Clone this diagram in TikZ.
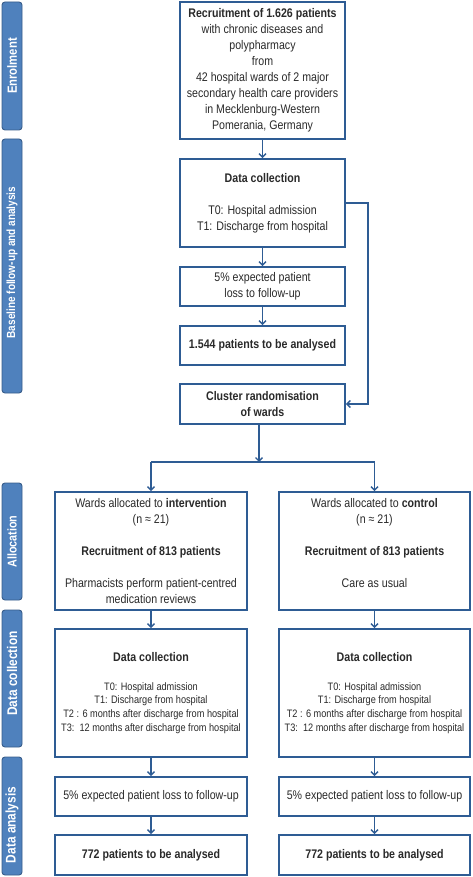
\documentclass[tikz,border=0pt]{standalone}
\usepackage{fontspec}
\setmainfont[FakeStretch=0.85]{Liberation Sans}
\usetikzlibrary{arrows.meta}
\definecolor{barblue}{HTML}{4F81BD}
\definecolor{bardark}{HTML}{385D8A}
\definecolor{boxline}{HTML}{2E5C94}
\definecolor{txt}{HTML}{2A2A2A}
\begin{document}
\begin{tikzpicture}[x=1pt,y=-1pt,
 box/.style={draw=boxline, line width=1.6pt, fill=white, align=center, text=txt, inner sep=2pt, font=\fontsize{12.5}{16}\selectfont},
 bar/.style={draw=bardark, fill=barblue, rounded corners=3pt, line width=0.9pt, rotate=90, text=white, inner sep=0pt, minimum height=20pt},
 arr/.style={draw=boxline, line width=1.4pt, -{Straight Barb[length=3.5pt,width=7pt]}},
 ln/.style={draw=boxline, line width=1.4pt},
 small/.style={font=\fontsize{10.8}{13.6}\selectfont}]
\useasboundingbox (0,0) rectangle (472,877);
% phase bars
\node[bar, minimum width=128pt, font=\bfseries\fontsize{13.3}{15}\selectfont] (b1) at (12,66) {Enrolment};
\node[bar, minimum width=254pt, font=\bfseries\fontsize{11.8}{14}\selectfont] (b2) at (12,266) {\hspace*{7pt}Baseline follow-up and analysis};
\node[bar, minimum width=117pt, font=\bfseries\fontsize{12.7}{15}\selectfont] (b3) at (12,541.5) {Allocation};
\node[bar, minimum width=137pt, font=\bfseries\fontsize{14}{16}\selectfont] (b4) at (12,678.5) {\hspace*{10pt}Data collection};
\node[bar, minimum width=118pt, font=\bfseries\fontsize{14}{16}\selectfont] (b5) at (12,816) {Data analysis\hspace*{18pt}};
% boxes
\node[box, minimum width=165pt, minimum height=137pt] (rec) at (262.5,70.5)
 {\textbf{Recruitment of 1.626 patients}\\with chronic diseases and\\polypharmacy\\from\\42 hospital wards of 2 major\\secondary health care providers\\in Mecklenburg-Western\\Pomerania, Germany};
\node[box, minimum width=165pt, minimum height=88pt] (dc0) at (262.5,203)
 {\textbf{Data collection}\\[16pt]T0: Hospital admission\\T1: Discharge from hospital};
\node[box, minimum width=165pt, minimum height=39pt] (loss0) at (262.5,286.5)
 {5\% expected patient\\loss to follow-up};
\node[box, minimum width=165pt, minimum height=39pt] (an0) at (262.5,345.5)
 {\textbf{1.544 patients to be analysed}};
\node[box, minimum width=165pt, minimum height=40pt] (clu) at (262.5,404)
 {\textbf{Cluster randomisation}\\\textbf{of wards}};
\node[box, minimum width=192pt, minimum height=118pt] (intv) at (151,551)
 {Wards allocated to \textbf{intervention}\\(n ≈ 21)\\[16pt]\textbf{Recruitment of 813 patients}\\[16pt]Pharmacists perform patient-centred\\medication reviews};
\node[box, minimum width=191pt, minimum height=118pt] (ctrl) at (374.5,551)
 {Wards allocated to \textbf{control}\\(n ≈ 21)\\[16pt]\textbf{Recruitment of 813 patients}\\[16pt]Care as usual\\\mbox{}};
\node[box, small, minimum width=192pt, minimum height=128pt] (dcL) at (151,693)
 {{\fontsize{12.5}{15}\selectfont\bfseries Data collection}\\[15pt]T0: Hospital admission\\T1: Discharge from hospital\\T2 : 6 months after discharge from hospital\\T3:\ \ 12 months after discharge from hospital};
\node[box, small, minimum width=191pt, minimum height=128pt] (dcR) at (374.5,693)
 {{\fontsize{12.5}{15}\selectfont\bfseries Data collection}\\[15pt]T0: Hospital admission\\T1: Discharge from hospital\\T2 : 6 months after discharge from hospital\\T3:\ \ 12 months after discharge from hospital};
\node[box, minimum width=192pt, minimum height=39pt] (lossL) at (151,796.5)
 {5\% expected patient loss to follow-up};
\node[box, minimum width=191pt, minimum height=39pt] (lossR) at (374.5,796.5)
 {5\% expected patient loss to follow-up};
\node[box, minimum width=192pt, minimum height=40pt] (anL) at (151,855)
 {\textbf{772 patients to be analysed}};
\node[box, minimum width=191pt, minimum height=40pt] (anR) at (374.5,855)
 {\textbf{772 patients to be analysed}};
% connectors
\draw[arr] (rec) -- (dc0);
\draw[arr] (dc0) -- (loss0);
\draw[arr] (loss0) -- (an0);
\draw[arr] (dc0.east) -- ++(22,0) |- (clu.east);
\coordinate (split) at (259,462);
\draw[arr] (clu.south -| split) -- (split);
\draw[ln] (intv.north |- split) -- (ctrl.north |- split);
\draw[arr] (intv.north |- split) -- (intv);
\draw[arr] (ctrl.north |- split) -- (ctrl);
\draw[arr] (intv) -- (dcL);
\draw[arr] (ctrl) -- (dcR);
\draw[arr] (dcL) -- (lossL);
\draw[arr] (dcR) -- (lossR);
\draw[arr] (lossL) -- (anL);
\draw[arr] (lossR) -- (anR);
\end{tikzpicture}
\end{document}
